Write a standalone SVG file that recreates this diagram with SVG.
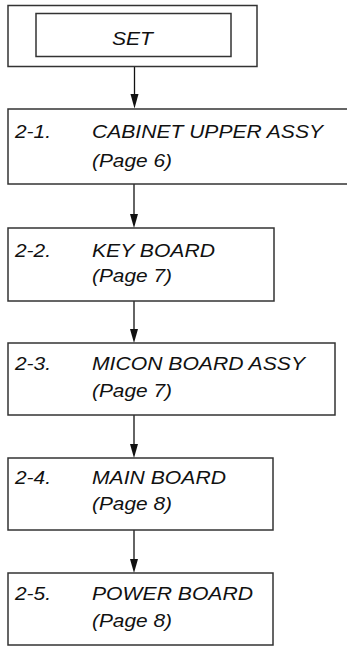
<svg xmlns="http://www.w3.org/2000/svg" width="347" height="646" viewBox="0 0 347 646">
<defs>
<style>
.box{fill:#fff;stroke:#333;stroke-width:1.5}
.t{font-family:"Liberation Sans",Arial,sans-serif;font-style:italic;font-size:18.5px;fill:#111}
.c{stroke:#111;stroke-width:1.3;fill:none}
</style>
<marker id="ah" markerWidth="8" markerHeight="14" refX="4" refY="14" orient="auto-start-reverse" markerUnits="userSpaceOnUse" viewBox="0 0 8 14">
<path d="M0,0 L8,0 L4,14 Z" fill="#111" transform="rotate(0)"/>
</marker>
</defs>
<rect width="347" height="646" fill="#fff"/>
<g id="connectors">
<line class="c" x1="134.5" y1="66.5" x2="134.5" y2="94"/><path d="M130.5,94 L138.5,94 L134.5,108.5 Z" fill="#111"/>
<line class="c" x1="134" y1="184" x2="134" y2="214"/><path d="M130,214 L138,214 L134,228 Z" fill="#111"/>
<line class="c" x1="134" y1="301" x2="134" y2="329"/><path d="M130,329 L138,329 L134,343 Z" fill="#111"/>
<line class="c" x1="134" y1="415" x2="134" y2="444"/><path d="M130,444 L138,444 L134,458 Z" fill="#111"/>
<line class="c" x1="134" y1="530" x2="134" y2="559"/><path d="M130,559 L138,559 L134,573 Z" fill="#111"/>
</g>
<g id="set">
<rect class="box" x="8" y="5.5" width="249" height="61"/>
<rect class="box" x="36" y="13.5" width="195" height="43"/>
<text class="t" x="112" y="45" textLength="41" lengthAdjust="spacingAndGlyphs">SET</text>
</g>
<g id="n2-1">
<rect class="box" x="8" y="109" width="345" height="75"/>
<text class="t" x="15" y="138" textLength="36" lengthAdjust="spacingAndGlyphs">2-1.</text>
<text class="t" x="92" y="138" textLength="231" lengthAdjust="spacingAndGlyphs">CABINET UPPER ASSY</text>
<text class="t" x="92" y="166.5" textLength="80" lengthAdjust="spacingAndGlyphs">(Page 6)</text>
</g>
<g id="n2-2">
<rect class="box" x="8" y="228" width="266" height="73"/>
<text class="t" x="15" y="257" textLength="36" lengthAdjust="spacingAndGlyphs">2-2.</text>
<text class="t" x="92" y="257" textLength="123" lengthAdjust="spacingAndGlyphs">KEY BOARD</text>
<text class="t" x="92" y="282" textLength="80" lengthAdjust="spacingAndGlyphs">(Page 7)</text>
</g>
<g id="n2-3">
<rect class="box" x="8" y="343" width="327" height="72"/>
<text class="t" x="15" y="370" textLength="36" lengthAdjust="spacingAndGlyphs">2-3.</text>
<text class="t" x="92" y="370" textLength="213" lengthAdjust="spacingAndGlyphs">MICON BOARD ASSY</text>
<text class="t" x="92" y="396.5" textLength="80" lengthAdjust="spacingAndGlyphs">(Page 7)</text>
</g>
<g id="n2-4">
<rect class="box" x="8" y="458" width="265" height="72"/>
<text class="t" x="15" y="483.5" textLength="36" lengthAdjust="spacingAndGlyphs">2-4.</text>
<text class="t" x="92" y="483.5" textLength="134" lengthAdjust="spacingAndGlyphs">MAIN BOARD</text>
<text class="t" x="92" y="510" textLength="80" lengthAdjust="spacingAndGlyphs">(Page 8)</text>
</g>
<g id="n2-5">
<rect class="box" x="8" y="573" width="265" height="72"/>
<text class="t" x="15" y="600" textLength="36" lengthAdjust="spacingAndGlyphs">2-5.</text>
<text class="t" x="92" y="600" textLength="161" lengthAdjust="spacingAndGlyphs">POWER BOARD</text>
<text class="t" x="92" y="626.5" textLength="80" lengthAdjust="spacingAndGlyphs">(Page 8)</text>
</g>
</svg>
